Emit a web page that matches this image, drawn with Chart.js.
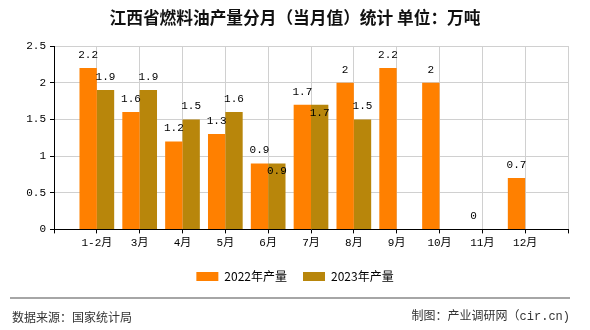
<!DOCTYPE html>
<html>
<head>
<meta charset="utf-8">
<script src="https://cdn.jsdelivr.net/npm/chart.js@4/dist/chart.umd.min.js"></script>
<style>
  body { margin: 0; background: #fff; }
  #wrap { width: 590px; height: 330px; }
</style>
</head>
<body>
<div id="wrap"><canvas id="myChart" width="590" height="330"></canvas></div>
<script>
const categories = ['1-2月', '3月', '4月', '5月', '6月', '7月', '8月', '9月', '10月', '11月', '12月'];
const values2022 = [2.2, 1.6, 1.2, 1.3, 0.9, 1.7, 2, 2.2, 2, 0, 0.7];
const values2023 = [1.9, 1.9, 1.5, 1.6, 0.9, 1.7, 1.5, null, null, null, null];
const seriesNames = ['2022年产量', '2023年产量'];
const yTicks = [0, 0.5, 1, 1.5, 2, 2.5];

const monoFont = "'Liberation Mono', 'Noto Sans CJK SC'";
const cjkFont = "'Noto Sans CJK SC'";

// empty slot on each side so labels sit on the grid lines
const labels = ['', ...categories, ''];
const pad = arr => [null, ...arr, null];

const valueLabels = {
  id: 'valueLabels',
  afterDatasetsDraw(chart) {
    const ctx = chart.ctx;
    const yScale = chart.scales.y;
    ctx.save();
    ctx.font = '11px ' + monoFont;
    ctx.fillStyle = '#000';
    ctx.textAlign = 'center';
    ctx.textBaseline = 'middle';
    chart.data.datasets.forEach((ds, i) => {
      chart.getDatasetMeta(i).data.forEach((bar, j) => {
        const v = ds.data[j];
        if (v == null) return;
        let y = bar.y - 13;
        if (i === 1) {
          const other = chart.data.datasets[0].data[j];
          if (other != null && Math.abs(yScale.getPixelForValue(other) - bar.y) < 12) y = bar.y + 8;
        }
        ctx.fillText(String(v), bar.x, y);
      });
    });
    ctx.restore();
  }
};

const footer = {
  id: 'footer',
  afterDraw(chart) {
    const ctx = chart.ctx;
    ctx.save();
    ctx.strokeStyle = '#888';
    ctx.lineWidth = 1.5;
    ctx.beginPath();
    ctx.moveTo(10, 298);
    ctx.lineTo(570, 298);
    ctx.stroke();
    ctx.fillStyle = '#333';
    ctx.textBaseline = 'middle';
    ctx.font = '12px ' + cjkFont;
    ctx.textAlign = 'left';
    ctx.fillText('数据来源：国家统计局', 12, 317);
    ctx.font = '12px ' + monoFont;
    ctx.textAlign = 'right';
    ctx.fillText('制图：产业调研网（cir.cn)', 570, 317);
    ctx.restore();
  }
};

const ctx = document.getElementById('myChart').getContext('2d');
const chart = new Chart(ctx, {
  type: 'bar',
  data: {
    labels: labels,
    datasets: [
      {
        label: seriesNames[0],
        backgroundColor: '#FF8000',
        borderWidth: 0,
        data: pad(values2022)
      },
      {
        label: seriesNames[1],
        backgroundColor: '#B8860B',
        borderWidth: 0,
        data: pad(values2023)
      }
    ]
  },
  options: {
    responsive: false,
    animation: false,
    devicePixelRatio: 1,
    layout: { padding: { left: 22, right: 22, top: 0, bottom: 37.6 } },
    datasets: {
      bar: { categoryPercentage: 0.81, barPercentage: 1 }
    },
    scales: {
      x: {
        offset: false,
        afterFit: s => { s.height = 25; },
        grid: { offset: false, color: '#d0d0d0', tickColor: '#000', tickLength: 4 },
        border: { color: '#000' },
        ticks: {
          autoSkip: false,
          maxRotation: 0,
          padding: 3,
          color: '#000',
          font: { family: monoFont, size: 11 }
        }
      },
      y: {
        min: 0,
        max: 2.5,
        afterFit: s => { s.width = 32; },
        afterBuildTicks: s => { s.ticks = yTicks.map(v => ({ value: v })); },
        grid: { color: '#d0d0d0', tickColor: '#000', tickLength: 4 },
        border: { color: '#000' },
        ticks: {
          padding: 4,
          color: '#000',
          font: { family: monoFont, size: 11 },
          callback: v => String(v)
        }
      }
    },
    plugins: {
      title: {
        display: true,
        text: '江西省燃料油产量分月（当月值）统计 单位：万吨',
        color: '#111',
        font: { family: cjkFont, size: 16.7, weight: 'bold' },
        padding: { top: 8, bottom: 18 }
      },
      legend: {
        position: 'bottom',
        labels: {
          boxWidth: 22,
          boxHeight: 9,
          padding: 16,
          color: '#000',
          font: { family: cjkFont, size: 12 }
        }
      },
      tooltip: { enabled: false }
    }
  },
  plugins: [valueLabels, footer]
});
</script>
</body>
</html>
